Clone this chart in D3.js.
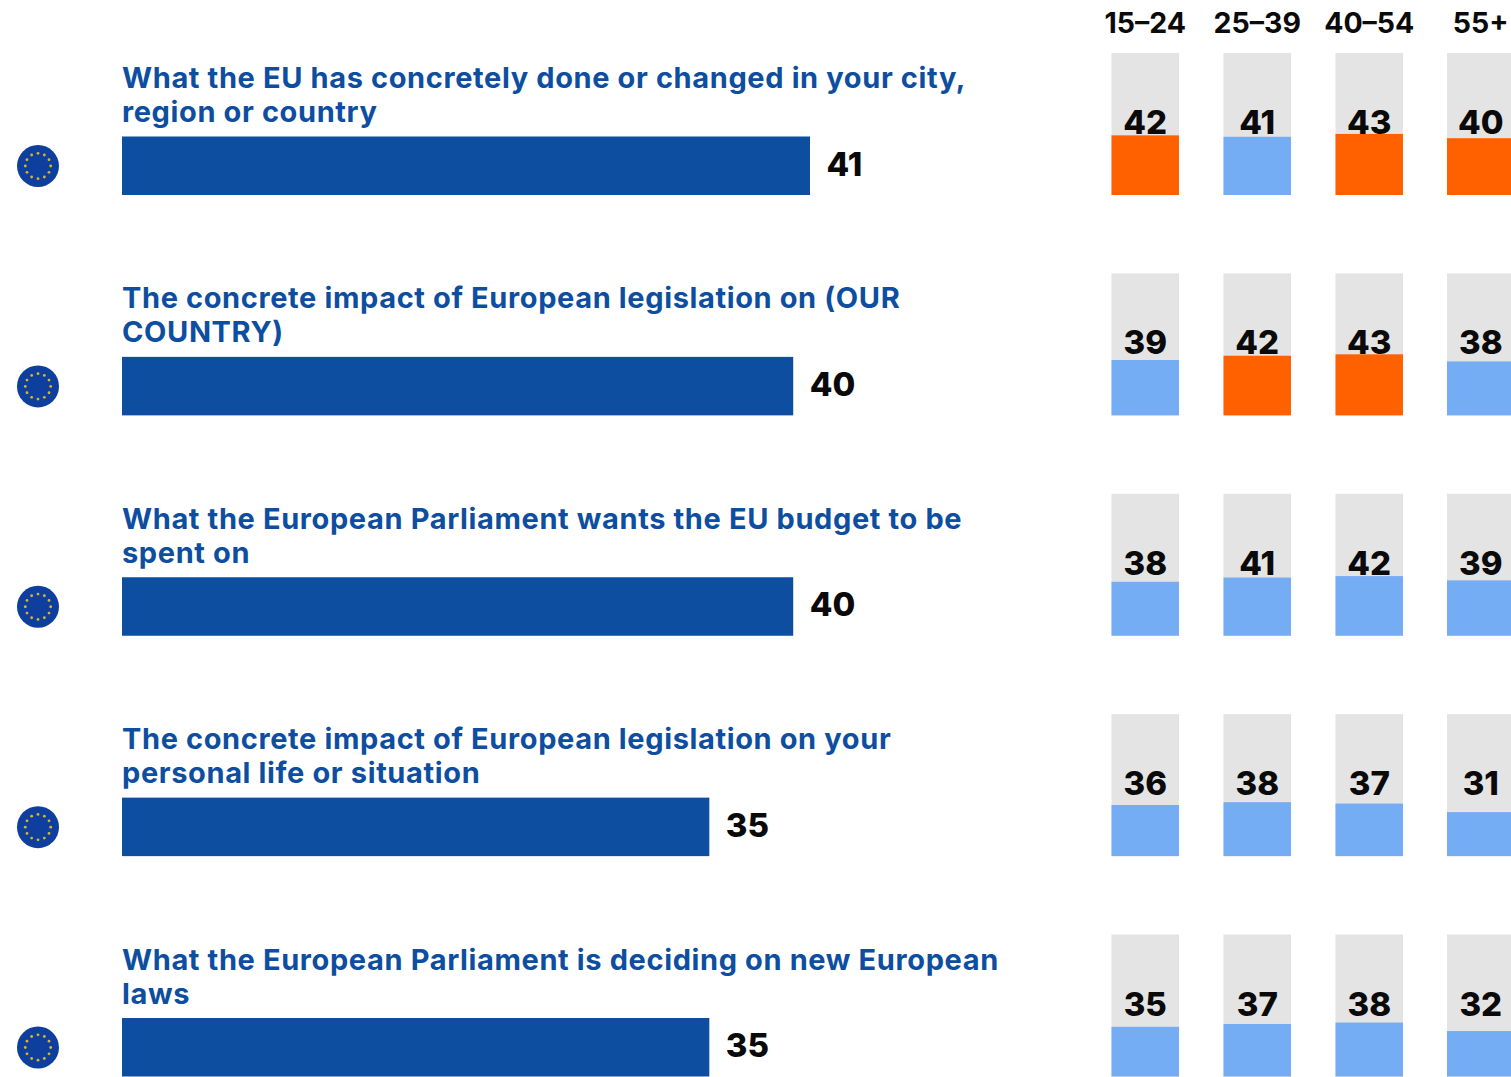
<!DOCTYPE html>
<html><head><meta charset="utf-8">
<script src="https://cdn.jsdelivr.net/npm/d3@7"></script>
<style>html,body{margin:0;padding:0;background:#fff;overflow:hidden}text{font-family:"Inter",sans-serif}</style>
</head><body><svg id="c" width="1511" height="1077"></svg>
<script>
const labelLine1 = ["What the EU has concretely done or changed in your city,","The concrete impact of European legislation on (OUR","What the European Parliament wants the EU budget to be","The concrete impact of European legislation on your","What the European Parliament is deciding on new European"];
const labelLine2 = ["region or country","COUNTRY)","spent on","personal life or situation","laws"];
const euValues = [41,40,40,35,35];
const ageGroups = ["15–24","25–39","40–54","55+"];
const age1524 = [42,39,38,36,35];
const age2539 = [41,42,41,38,37];
const age4054 = [43,43,42,37,38];
const age55 = [40,38,39,31,32];
const highlighted = [[1,0,1,1],[0,1,1,0],[0,0,0,0],[0,0,0,0],[0,0,0,0]];
const ageValues = [age1524,age2539,age4054,age55];
const BLUE="#0d4ea0", LIGHT="#75adf5", ORANGE="#ff6000", GREY="#e4e4e4", STAR="#d9b52a";

const svg=d3.select("#c");
const x=d3.scaleLinear().domain([0,41]).range([122,810]);
const rowTop=d3.scaleLinear().domain([0,4]).range([136.5,1018]);
const barH=58.5;
const ageX=d3.scaleOrdinal().domain(ageGroups).range([1111.5,1223.5,1335.5,1447]);
const smallW=67.5;
const smallH=d3.scaleLinear().domain([0,100]).range([0,142]);

svg.selectAll(".hdr").data(ageGroups).join("text").attr("class","hdr")
  .attr("x",d=>ageX(d)+smallW/2).attr("y",33).attr("text-anchor","middle")
  .attr("font-size",28.5).attr("font-weight",700).attr("fill","#0a0a0a").text(d=>d);

euValues.forEach((v,i)=>{
  const top=rowTop(i), bottom=top+barH, g=svg.append("g");
  const l1y=bottom-107, l2y=bottom-73;
  [labelLine1[i],labelLine2[i]].forEach((t,k)=>g.append("text").attr("x",122).attr("y",k?l2y:l1y)
    .attr("font-size",29).attr("letter-spacing",0.62).attr("font-weight",650).attr("fill",BLUE).attr("class","lab").text(t));
  g.append("rect").attr("x",x(0)).attr("y",top).attr("width",x(v)-x(0)).attr("height",barH).attr("fill",BLUE);
  g.append("text").attr("x",x(v)+16.5).attr("y",top+39).attr("font-size",33).attr("font-weight",800).attr("fill","#0a0a0a").text(v);
  const cx=38,cy=top+29.5;
  g.append("circle").attr("cx",cx).attr("cy",cy).attr("r",21).attr("fill","#0f3f9e");
  d3.range(12).forEach(s=>{const a=s/12*2*Math.PI;
    g.append("circle").attr("cx",cx+12.7*Math.cos(a)).attr("cy",cy+12.7*Math.sin(a)).attr("r",1.4).attr("fill",STAR);});
  ageGroups.forEach((a,j)=>{
    const val=ageValues[j][i], h=smallH(val), sx=ageX(a);
    g.append("rect").attr("x",sx).attr("y",bottom-142).attr("width",smallW).attr("height",142).attr("fill",GREY);
    g.append("rect").attr("x",sx).attr("y",bottom-h).attr("width",smallW).attr("height",h).attr("fill",highlighted[i][j]?ORANGE:LIGHT);
    g.append("text").attr("x",sx+smallW/2).attr("y",bottom-61).attr("text-anchor","middle").attr("font-size",33).attr("font-weight",800).attr("fill","#0a0a0a").text(val);
  });
});
</script></body></html>
